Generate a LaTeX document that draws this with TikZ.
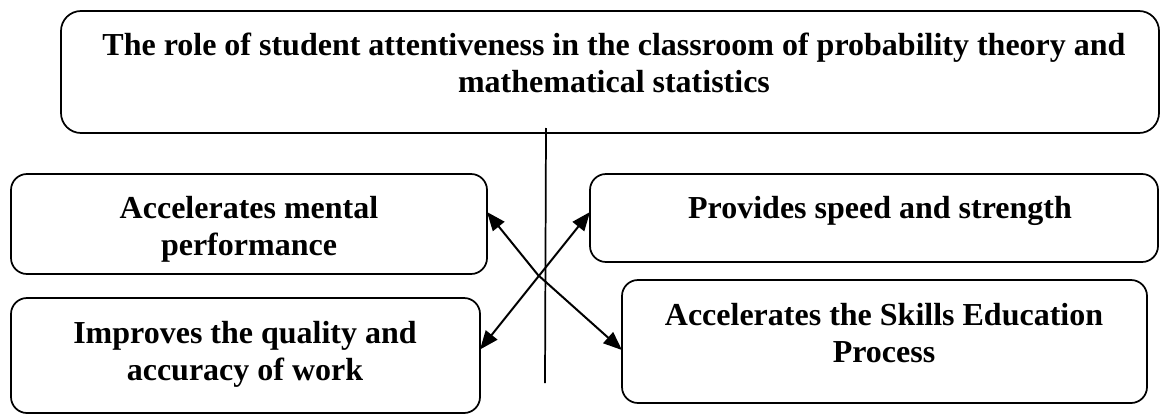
\documentclass[tikz,border=0pt]{standalone}
\usepackage{fontspec}
\setmainfont{Liberation Serif}
\usetikzlibrary{arrows.meta}
\tikzset{
  box/.style={draw, line width=1.3pt, rounded corners=12pt, inner sep=0pt, outer sep=0pt},
  lbl/.style={anchor=base, align=center, inner sep=0pt, font=\fontsize{24}{27.75}\selectfont\bfseries},
  tip/.style={},
  arr/.style={line width=1.5pt, {Triangle[length=14pt,width=11pt]}-{Triangle[length=14pt,width=11pt]}},
  vline/.style={line width=1.3pt}
}
\begin{document}
\begin{tikzpicture}[x=0.75pt,y=-0.75pt]
\useasboundingbox (0,0) rectangle (1160,414);
% boxes
\node[box, minimum width=823.5pt, minimum height=91.5pt, rounded corners=15pt] (T) at (610,72) {};
\node[box, minimum width=357pt, minimum height=75pt] (L1) at (249,224) {};
\node[box, minimum width=426pt, minimum height=66pt] (R1) at (874,218) {};
\node[box, minimum width=351.75pt, minimum height=86.25pt] (L2) at (245.5,355.5) {};
\node[box, minimum width=393.75pt, minimum height=92.25pt] (R2) at (884.5,341.5) {};
% texts (base anchor = baseline of last line)
\node[lbl] (tT) at (614,92) {The role of student attentiveness in the classroom of probability theory and\\mathematical statistics};
\node[lbl] (tL1) at (249,255) {Accelerates mental\\performance};
\node[lbl] (tR1) at (880,218) {Provides speed and strength};
\node[lbl] (tL2) at (245,380) {Improves the quality and\\accuracy of work};
\node[lbl] (tR2) at (884,362) {Accelerates the Skills Education\\Process};
% vertical line
\coordinate (vtop) at (546,128);
\coordinate (vbot) at (545,383);
\draw[vline] (vtop) -- (vbot);
% connectors
\coordinate (bendA) at (538,275);
\draw[arr] ([yshift=9pt]L1.east) -- (bendA) -- ([yshift=-6.4pt]R2.west);
\draw[arr] ([yshift=4.5pt]L2.east) -- ([yshift=4.5pt]R1.west);
\end{tikzpicture}
\end{document}
